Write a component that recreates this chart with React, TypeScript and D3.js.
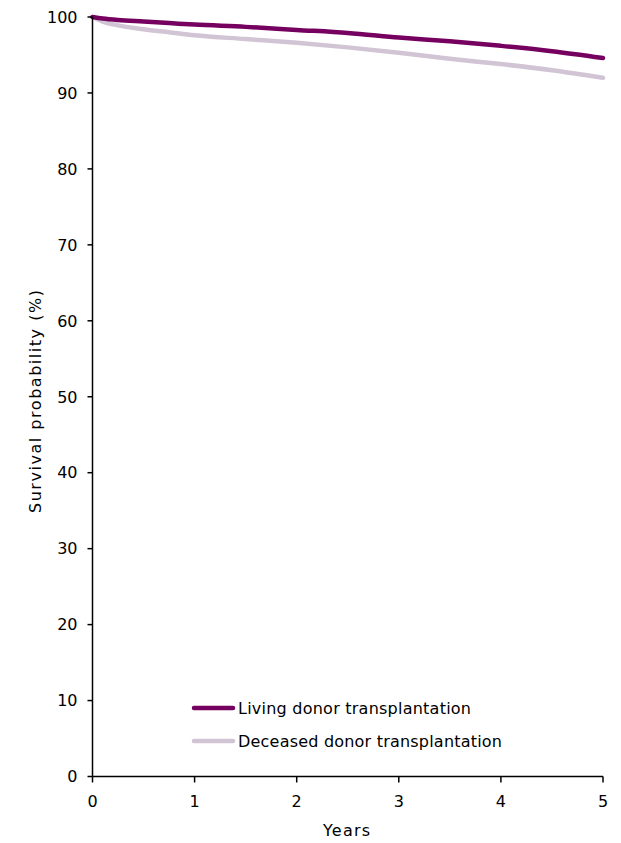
import React from "react";
import * as d3 from "d3";

const years = [0, 0.1, 0.25, 0.5, 0.75, 1, 1.5, 2, 2.5, 3, 3.5, 4, 4.5, 5];
const livingSurvival = [100, 99.8, 99.6, 99.4, 99.2, 99.0, 98.7, 98.3, 97.9, 97.3, 96.8, 96.2, 95.5, 94.6];
const deceasedSurvival = [100, 99.4, 98.9, 98.4, 98.0, 97.6, 97.1, 96.6, 96.0, 95.3, 94.5, 93.8, 93.0, 92.0];
const xTicks = [0, 1, 2, 3, 4, 5];
const yTicks = [0, 10, 20, 30, 40, 50, 60, 70, 80, 90, 100];
const seriesNames = ["Living donor transplantation", "Deceased donor transplantation"];
const seriesColors = ["#76005f", "#d1c4d4"];
const legendWidths = [233, 264];

export default function App() {
  const W = 621, H = 843;
  const left = 92.5, right = 603, top = 17, bottom = 776.5;
  const x = d3.scaleLinear().domain([0, 5]).range([left, right]);
  const y = d3.scaleLinear().domain([0, 100]).range([bottom, top]);
  const line = d3.line<number>().x((_, i) => x(years[i])).y((d) => y(d)).curve(d3.curveMonotoneX);
  const series = [livingSurvival, deceasedSurvival];
  const font = "'DejaVu Sans', Verdana, sans-serif";
  return (
    <svg width={W} height={H} style={{ position: "absolute", left: 0, top: 0, background: "#fff" }} fontFamily={font}>
      {series.map((s, i) => (
        <path key={i} d={line(s) || ""} fill="none" stroke={seriesColors[i]} strokeWidth={4.5} strokeLinecap="round" strokeLinejoin="round" />
      )).reverse()}
      <line x1={left} x2={left} y1={top} y2={bottom} stroke="#000" strokeWidth={1.5} />
      <line x1={left} x2={right} y1={bottom} y2={bottom} stroke="#000" strokeWidth={1.5} />
      {yTicks.map((t) => (
        <g key={t}>
          <line x1={left - 5} x2={left} y1={y(t)} y2={y(t)} stroke="#000" strokeWidth={1.5} />
          <text x={77.5} y={y(t)} dy="0.36em" textAnchor="end" fontSize={16} fill="#000">{t}</text>
        </g>
      ))}
      {xTicks.map((t) => (
        <g key={t}>
          <line x1={x(t)} x2={x(t)} y1={bottom} y2={bottom + 6} stroke="#000" strokeWidth={1.5} />
          <text x={x(t)} y={807} textAnchor="middle" fontSize={16} fill="#000">{t}</text>
        </g>
      ))}
      <text x={323} y={836} fontSize={16} fill="#000" textLength={47} lengthAdjust="spacing">Years</text>
      <text transform={`translate(41,513) rotate(-90)`} fontSize={16} fill="#000" textLength={223} lengthAdjust="spacing">Survival probability (%)</text>
      {seriesNames.map((n, i) => {
        const ly = 708 + i * 33;
        return (
          <g key={n}>
            <line x1={194} x2={233} y1={ly} y2={ly} stroke={seriesColors[i]} strokeWidth={4.5} strokeLinecap="round" />
            <text x={238} y={ly} dy="0.36em" fontSize={16} fill="#000" textLength={legendWidths[i]} lengthAdjust="spacing">{n}</text>
          </g>
        );
      })}
    </svg>
  );
}
